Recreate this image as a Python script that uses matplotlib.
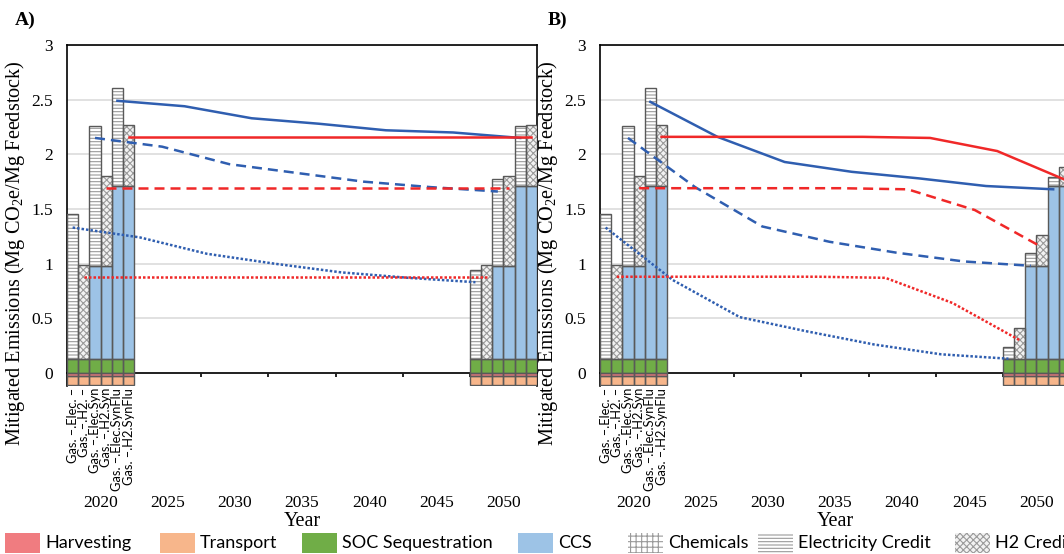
import matplotlib
matplotlib.use("Agg")
import numpy as np
import matplotlib.pyplot as plt
from matplotlib.patches import Rectangle

plt.rcParams['font.family'] = ['Liberation Serif', 'DejaVu Serif']
plt.rcParams['mathtext.fontset'] = 'custom'
plt.rcParams['mathtext.rm'] = 'Liberation Serif'
plt.rcParams['mathtext.it'] = 'Liberation Serif:italic'
plt.rcParams['hatch.linewidth'] = 0.8

# scenarios (one bar each per category) and x categories
scenarios = ['Gas. –.Elec. –', 'Gas. –.H2. –', 'Gas. –.Elec.Syn',
             'Gas. –.H2.Syn', 'Gas. –.Elec.SynFlu', 'Gas. –.H2.SynFlu']
year_labels = ['2020', '2025', '2030', '2035', '2040', '2045', '2050']

# stacked components (Mg CO2e / Mg feedstock)
harvesting = [-0.03] * 6
transport = [-0.08] * 6
soc = [0.13] * 6
ccs = [0.0, 0.0, 0.85, 0.85, 1.58, 1.58]
chemicals = [0.0] * 6
elec_2020 = [1.32, 0.0, 1.28, 0.0, 0.90, 0.0]
h2_2020 = [0.0, 0.86, 0.0, 0.82, 0.0, 0.56]
elec_2050_a = [0.81, 0.0, 0.79, 0.0, 0.55, 0.0]
h2_2050_a = [0.0, 0.86, 0.0, 0.82, 0.0, 0.56]
elec_2050_b = [0.11, 0.0, 0.115, 0.0, 0.08, 0.0]
h2_2050_b = [0.0, 0.28, 0.0, 0.28, 0.0, 0.17]

# net mitigated emissions over time
line_years = [2020, 2025, 2030, 2035, 2040, 2045, 2050]
net_a = [
    [1.33, 1.24, 1.09, 1.00, 0.92, 0.87, 0.83],   # Elec -
    [0.88, 0.88, 0.88, 0.88, 0.88, 0.88, 0.88],   # H2 -
    [2.15, 2.07, 1.91, 1.83, 1.75, 1.70, 1.66],   # Elec Syn
    [1.69, 1.69, 1.69, 1.69, 1.69, 1.69, 1.69],   # H2 Syn
    [2.49, 2.44, 2.33, 2.28, 2.22, 2.20, 2.15],   # Elec SynFlu
    [2.16, 2.16, 2.16, 2.16, 2.16, 2.16, 2.16],   # H2 SynFlu
]
net_b = [
    [1.33, 0.85, 0.51, 0.38, 0.26, 0.17, 0.13],
    [0.88, 0.88, 0.88, 0.88, 0.87, 0.64, 0.30],
    [2.15, 1.70, 1.34, 1.20, 1.10, 1.02, 0.98],
    [1.69, 1.69, 1.69, 1.69, 1.68, 1.49, 1.15],
    [2.48, 2.16, 1.93, 1.84, 1.78, 1.71, 1.68],
    [2.16, 2.16, 2.16, 2.16, 2.15, 2.03, 1.77],
]

legend_labels = ['Harvesting', 'Transport', 'SOC Sequestration', 'CCS',
                 'Chemicals', 'Electricity Credit', 'H2 Credit']

c_harv = '#f07c80'
c_trans = '#f7b68b'
c_soc = '#70ad47'
c_ccs = '#9dc3e6'
c_hatch = '#9a9a9a'
c_edge = '#595959'
blue = '#2f5eb0'
red = '#f02828'
line_styles = [(0, (1, 0.8)), (0, (1, 0.8)), (0, (4, 2.4)), (0, (4, 2.4)), '-', '-']
line_colors = [blue, red, blue, red, blue, red]
sans = ['Lato', 'DejaVu Sans']

n = len(scenarios)
w = 1.0 / n
offsets = (np.arange(n) + 0.5) * w


def stack(ax, cat, elec, h2):
    x = cat + offsets
    segs = [
        (np.zeros(n), harvesting, c_harv, None),
        (np.array(harvesting), transport, c_trans, None),
        (np.zeros(n), soc, c_soc, None),
        (np.array(soc), ccs, c_ccs, None),
    ]
    top = np.array(soc) + np.array(ccs)
    segs.append((top, chemicals, 'white', '+++'))
    top = top + np.array(chemicals)
    segs.append((top, elec, 'white', '-----'))
    top = top + np.array(elec)
    segs.append((top, h2, '#f2f2f2', 'xxxxx'))
    for base, h, face, hatch in segs:
        h = np.array(h)
        keep = h != 0
        if hatch:
            ax.bar(x[keep], h[keep], w, bottom=base[keep], color=face,
                   edgecolor=c_hatch, hatch=hatch, linewidth=0, zorder=3)
        else:
            ax.bar(x[keep], h[keep], w, bottom=base[keep], color=face,
                   linewidth=0, zorder=3)
        ax.bar(x[keep], h[keep], w, bottom=base[keep], fill=False,
               edgecolor=c_edge, linewidth=1.0, zorder=3.5)


def panel(ax, elec_end, h2_end, nets, tag):
    ax.set_xlim(0, 7)
    ax.set_ylim(-0.12, 3.0)
    ax.yaxis.grid(True, color='#d9d9d9', linewidth=1.1, zorder=0)
    ax.set_axisbelow(True)
    stack(ax, 0, elec_2020, h2_2020)
    stack(ax, 6, elec_end, h2_end)
    for j in range(n):
        x = (np.array(line_years) - 2020) / 5 + offsets[j]
        ax.plot(x, nets[j], color=line_colors[j], linestyle=line_styles[j],
                linewidth=1.8, zorder=5)
    for j, s in enumerate(scenarios):
        ax.text(offsets[j], -0.135, s, rotation=90, ha='center', va='top',
                fontsize=9.3, family=sans)

    for side in ['top', 'left', 'right']:
        ax.spines[side].set_linewidth(1.2)
    ax.spines['bottom'].set_position(('data', 0))
    ax.spines['bottom'].set_linewidth(1.2)
    ax.set_yticks(np.arange(0, 3.01, 0.5))
    ax.set_yticklabels(['0', '0.5', '1', '1.5', '2', '2.5', '3'])
    ax.tick_params(axis='y', length=0, pad=10, labelsize=12.5)
    ax.set_xticks(np.arange(1, 7))
    ax.set_xticklabels([])
    ax.set_xticks(np.arange(7) + 0.5, minor=True)
    ax.set_xticklabels(year_labels, minor=True)
    ax.tick_params(axis='x', which='major', length=3, width=1.2)
    ax.tick_params(axis='x', which='minor', length=0, pad=88, labelsize=12.5)
    ax.set_xlabel('Year', fontsize=14.5)
    ax.xaxis.set_label_coords(0.5, -0.37)
    ax.set_ylabel('Mitigated Emissions (Mg CO$_2$e/Mg Feedstock)', fontsize=14.6)
    ax.yaxis.set_label_coords(-0.086, 0.39)
    ax.text(-0.09, 1.073, tag, transform=ax.transAxes, fontsize=14,
            fontweight='bold', ha='center', va='center')


fig = plt.figure(figsize=(10.64, 5.54), dpi=100)
ax_a = fig.add_axes([0.0630, 0.3032, 0.4417, 0.6155])
ax_b = fig.add_axes([0.5639, 0.3032, 0.4417, 0.6155])
panel(ax_a, elec_2050_a, h2_2050_a, net_a, 'A)')
panel(ax_b, elec_2050_b, h2_2050_b, net_b, 'B)')

# legend row along the bottom edge
W, H = 1064.0, 554.0
key_left = [5, 160, 302, 518, 628, 758, 955]
key_style = [(c_harv, None), (c_trans, None), (c_soc, None), (c_ccs, None),
             ('white', '+++'), ('white', '-----'), ('#f2f2f2', 'xxxxx')]
for lab, x0, (face, hatch) in zip(legend_labels, key_left, key_style):
    rect = Rectangle((x0 / W, (H - 553) / H), 35 / W, 20 / H,
                     transform=fig.transFigure, facecolor=face,
                     edgecolor=c_hatch if hatch else face, hatch=hatch,
                     linewidth=0)
    fig.add_artist(rect)
    fig.text((x0 + 40) / W, (H - 543) / H, lab, ha='left', va='center',
             fontsize=13, family=sans)

fig.savefig('out.png', dpi=100)
